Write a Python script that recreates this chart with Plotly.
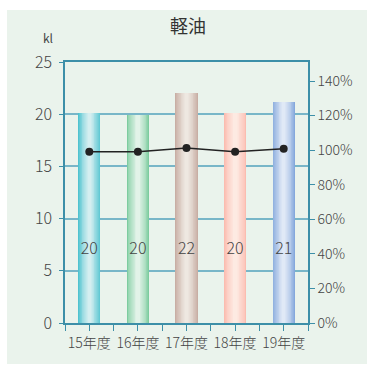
import plotly.graph_objects as go

categories = ["15年度", "16年度", "17年度", "18年度", "19年度"]
volumes = [20.1, 19.9, 22.0, 20.1, 21.2]
volume_labels = ["20", "20", "22", "20", "21"]
ratios = [99.1, 99.1, 101.2, 99.1, 100.8]
edge_colors = ["#4fc3cf", "#7dcc9f", "#c8aea4", "#fbbcb0", "#85a8dc"]
center_colors = ["#d4eef0", "#e2f3e8", "#eee8e1", "#fdeae2", "#e0e9f6"]

FONT = "Noto Sans CJK JP"
AXIS = "#3d8fa8"
GRID = "#78b6c8"
TEXT = "#444444"


def hex2rgb(h):
    h = h.lstrip("#")
    return tuple(int(h[i:i + 2], 16) for i in (0, 2, 4))


def mix(a, b, t):
    ra, rb = hex2rgb(a), hex2rgb(b)
    return "rgb(%d,%d,%d)" % tuple(round(ra[i] + (rb[i] - ra[i]) * t) for i in range(3))


xs = list(range(len(categories)))
fig = go.Figure()

layers = 12
full_w = 0.46
for k in range(layers):
    t = k / (layers - 1)
    w = full_w * (1 - t * 0.85)
    colors = [mix(edge_colors[i], center_colors[i], t ** 0.8) for i in range(len(xs))]
    fig.add_trace(go.Bar(
        x=xs, y=volumes, width=w, marker=dict(color=colors, line=dict(width=0)),
        hoverinfo="skip", showlegend=False,
    ))

fig.add_trace(go.Scatter(
    x=xs, y=[7.0] * len(xs), text=volume_labels, mode="text",
    textfont=dict(family=FONT, size=16, color=TEXT, weight=300), showlegend=False,
    hoverinfo="skip",
))

fig.add_trace(go.Scatter(
    x=xs, y=ratios, yaxis="y2", mode="lines+markers",
    line=dict(color="#222222", width=1.5),
    marker=dict(color="#222222", size=8), showlegend=False,
))

# background panel
W, H = 367, 365
l, r, t, b = 65, 59, 62, 42
pw, ph = W - l - r, H - t - b
fig.add_shape(type="rect", xref="paper", yref="paper", layer="below",
              x0=(7 - l) / pw, x1=(W + 5 - l) / pw,
              y0=(H - b - 364) / ph, y1=(H - b - 10) / ph,
              fillcolor="#eaf3ec", line=dict(width=0))

fig.update_layout(
    width=W, height=H, margin=dict(l=l, r=r, t=t, b=b),
    paper_bgcolor="white", plot_bgcolor="rgba(0,0,0,0)",
    barmode="overlay", bargap=0,
    font=dict(family=FONT, color=TEXT, size=14, weight=300),
    title=dict(text="軽油", x=(188 - l) / pw, xref="paper", xanchor="center",
               y=1 - 27 / H, yanchor="middle",
               font=dict(size=18, color="#333333", family=FONT, weight=400)),
    xaxis=dict(
        range=[-0.5, 4.5], tickvals=xs, ticktext=categories,
        showline=True, linecolor=AXIS, linewidth=1.5, mirror=True,
        ticks="outside", ticklen=6, tickcolor=AXIS, showgrid=False,
        minor=dict(tick0=0.5, dtick=1, ticks="outside", ticklen=6, tickcolor=AXIS),
        tickfont=dict(size=14, color=TEXT, weight=300), zeroline=False,
    ),
    yaxis=dict(
        range=[0, 25], tickvals=[0, 5, 10, 15, 20, 25],
        showline=True, linecolor=AXIS, linewidth=1.5,
        ticks="outside", ticklen=4, tickcolor=AXIS,
        showgrid=True, gridcolor=GRID, gridwidth=1.5, zeroline=False,
        tickfont=dict(size=16, color=TEXT, weight=300), ticklabelstandoff=4,
    ),
    yaxis2=dict(
        range=[0, 151], overlaying="y", side="right",
        tickvals=[0, 20, 40, 60, 80, 100, 120, 140],
        ticktext=["0%", "20%", "40%", "60%", "80%", "100%", "120%", "140%"],
        showline=True, linecolor=AXIS, linewidth=1.5,
        ticks="outside", ticklen=5, tickcolor=AXIS,
        showgrid=False, zeroline=False,
        tickfont=dict(size=14, color=TEXT, weight=300),
    ),
)

fig.add_annotation(text="kl", xref="paper", yref="paper",
                   x=(48 - l) / pw, y=(H - b - 38) / ph,
                   xanchor="center", yanchor="middle",
                   showarrow=False, font=dict(size=12, color=TEXT, family=FONT, weight=400))

fig.write_html("out.html")
